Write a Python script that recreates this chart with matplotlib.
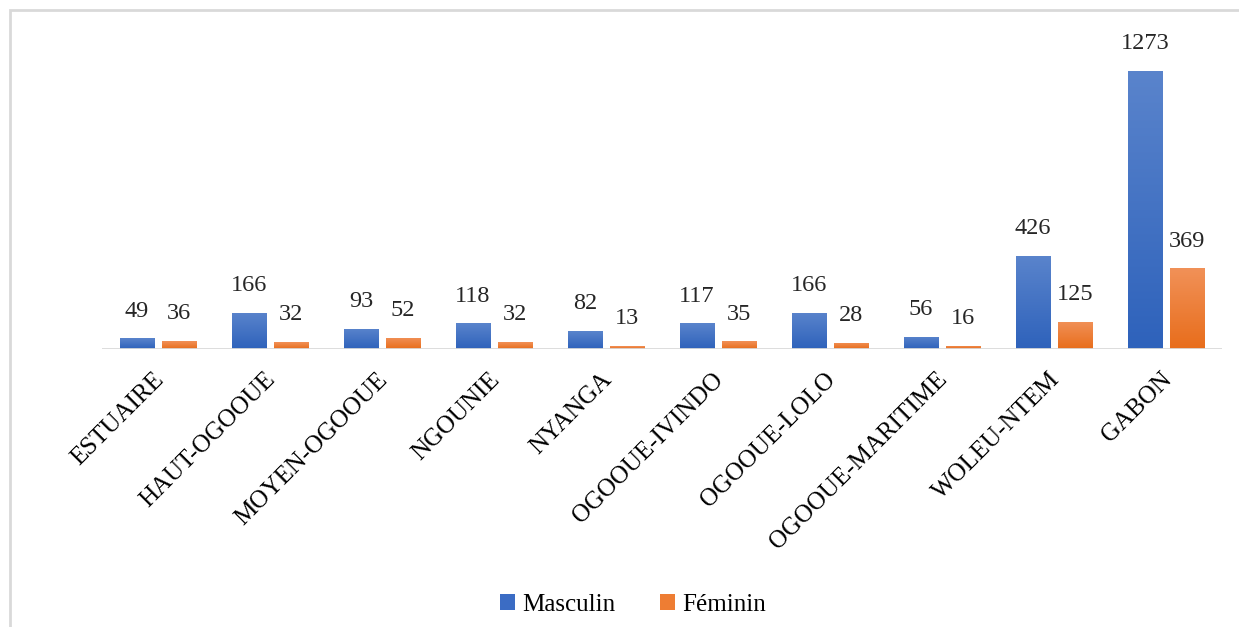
import numpy as np
import matplotlib.pyplot as plt
from matplotlib.colors import LinearSegmentedColormap
from matplotlib.patches import Rectangle, Patch

regions = ['ESTUAIRE', 'HAUT-OGOOUE', 'MOYEN-OGOOUE', 'NGOUNIE', 'NYANGA',
           'OGOOUE-IVINDO', 'OGOOUE-LOLO', 'OGOOUE-MARITIME', 'WOLEU-NTEM', 'GABON']
masculin = [49, 166, 93, 118, 82, 117, 166, 56, 426, 1273]
feminin = [36, 32, 52, 32, 13, 35, 28, 16, 125, 369]

plt.rcParams['font.family'] = ['Liberation Serif', 'DejaVu Serif']

W, H = 1239, 627
fig = plt.figure(figsize=(W / 100, H / 100), dpi=100)
ax = fig.add_axes([102 / W, (H - 349) / H, 1120 / W, 319 / H])

# chart frame (light gray border, only top/left visible)
fig.patches.append(Rectangle((10 / W, -0.1), 1.2, (H - 10) / H + 0.1,
                             transform=fig.transFigure, fill=False,
                             edgecolor='#d9d9d9', linewidth=2))

x = np.arange(len(regions))
w = 0.3125
gap = 0.0625

blue_cmap = LinearSegmentedColormap.from_list('b', ['#2e62bb', '#5a84cc'])
orange_cmap = LinearSegmentedColormap.from_list('o', ['#e86d1b', '#f19158'])

b1 = ax.bar(x - w / 2 - gap / 2, masculin, w, color='#3b6cc4', zorder=3)
b2 = ax.bar(x + w / 2 + gap / 2, feminin, w, color='#ee7d33', zorder=3)

grad = np.linspace(0, 1, 256).reshape(-1, 1)
for bars, cmap in [(b1, blue_cmap), (b2, orange_cmap)]:
    for bar in bars:
        bx, by = bar.get_x(), bar.get_y()
        bw, bh = bar.get_width(), bar.get_height()
        im = ax.imshow(grad, cmap=cmap, origin='lower', aspect='auto',
                       extent=[bx, bx + bw, by, by + bh], zorder=4)
        im.set_clip_path(bar)
        # soft shadow
        ax.add_patch(Rectangle((bx + 0.01, -6), bw, 6, facecolor='#bfbfbf',
                               edgecolor='none', alpha=0.6, zorder=2))

for bars, vals in [(b1, masculin), (b2, feminin)]:
    for bar, v in zip(bars, vals):
        ax.annotate(str(v), (bar.get_x() + bar.get_width() / 2, v),
                    xytext=(0, 12), textcoords='offset points',
                    ha='center', va='bottom', fontsize=17.5, color='#262626')

ax.set_xlim(-0.5, len(regions) - 0.5)
ax.set_ylim(0, 1460)
ax.axhline(0, color='#d9d9d9', linewidth=2, zorder=5)
for s in ax.spines.values():
    s.set_visible(False)
ax.set_yticks([])
ax.set_xticks(x - 0.05)
ax.set_xticklabels(regions, rotation=45, ha='right', va='top',
                   rotation_mode='anchor', fontsize=18)
ax.tick_params(axis='x', length=0, pad=14)

handles = [Patch(facecolor='#3b6cc4', label='Masculin'),
           Patch(facecolor='#ee7d33', label='Féminin')]
fig.legend(handles=handles, loc='center', bbox_to_anchor=(633 / W, 1 - 605 / H),
           ncol=2, frameon=False, fontsize=18, handlelength=0.6,
           handleheight=0.6, columnspacing=1.8, handletextpad=0.3)

fig.savefig('out.png', dpi=100)
